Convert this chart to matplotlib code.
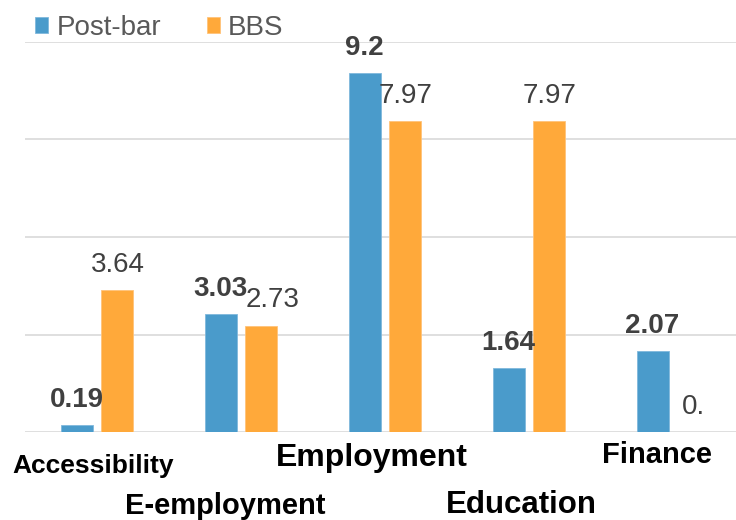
import matplotlib
matplotlib.use("Agg")
import matplotlib.pyplot as plt
import numpy as np

plt.rcParams['font.family'] = ['Liberation Sans', 'DejaVu Sans']

# data
categories = ['Accessibility', 'E-employment', 'Employment', 'Education', 'Finance']
post_bar = [0.19, 3.03, 9.2, 1.64, 2.07]
bbs = [3.64, 2.73, 7.97, 7.97, 0.0]
post_bar_labels = ['0.19', '3.03', '9.2', '1.64', '2.07']
bbs_labels = ['3.64', '2.73', '7.97', '7.97', '0.']

# styling of the staggered category labels
cat_sizes = [19, 21, 23, 22.5, 21]
cat_dx = [-0.03, -0.11, -0.09, -0.05, -0.11]
cat_baseline_px = [473, 514, 466, 513, 463]

blue = '#4A9BCB'
orange = '#FFA93A'

fig = plt.figure(figsize=(7.36, 5.20), dpi=100)
ax = fig.add_axes([25 / 736, 88 / 520, 720 / 736, 390 / 520])

x = np.arange(len(categories))
w = 0.222
off = 0.142
b1 = ax.bar(x - off, post_bar, w, color=blue, edgecolor='#7FB8DC', linewidth=0.6, label='Post-bar', zorder=3)
b2 = ax.bar(x + off, bbs, w, color=orange, edgecolor='#FFC37A', linewidth=0.6, label='BBS', zorder=3)

ax.set_xlim(-0.5, len(categories) - 0.5)
ax.set_ylim(0, 10)
ax.set_yticks([0, 2.5, 5, 7.5, 10])
ax.yaxis.grid(True, color='#D9D9D9', linewidth=1.2, zorder=0)
ax.set_axisbelow(True)
ax.tick_params(left=False, bottom=False, labelleft=False, labelbottom=False)
for s in ax.spines.values():
    s.set_visible(False)

for i in range(len(categories)):
    ax.annotate(post_bar_labels[i], (x[i] - off, post_bar[i]), xytext=(0, 13),
                textcoords='offset points', ha='center', va='baseline',
                fontsize=20, fontweight='bold', color='#404040')
    nudge = 8 if bbs_labels[i] == '2.73' else 0
    ax.annotate(bbs_labels[i], (x[i] + off, bbs[i]), xytext=(nudge, 13),
                textcoords='offset points', ha='center', va='baseline',
                fontsize=20, color='#404040')

for i, c in enumerate(categories):
    yax = -(cat_baseline_px[i] - 432) / 390
    ax.text(x[i] + cat_dx[i], yax, c, transform=ax.get_xaxis_transform(),
            ha='center', va='baseline', fontsize=cat_sizes[i], fontweight='bold',
            color='black')

leg = fig.legend(handles=[b1, b2], loc='center left', bbox_to_anchor=(35 / 736, 1 - 28 / 520),
                 ncol=2, frameon=False, fontsize=20, handlelength=0.47, handleheight=0.47,
                 handletextpad=0.3, columnspacing=1.65, borderpad=0, borderaxespad=0)
for t in leg.get_texts():
    t.set_color('#595959')

fig.savefig('out.png', dpi=100)
